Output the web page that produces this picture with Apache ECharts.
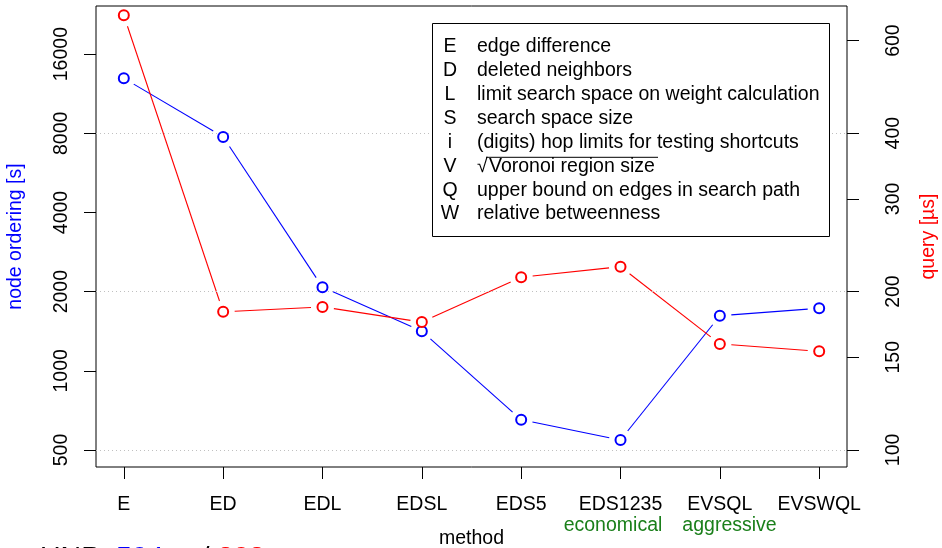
<!DOCTYPE html>
<html>
<head>
<meta charset="utf-8">
<script src="https://cdn.jsdelivr.net/npm/echarts@6/dist/echarts.min.js"></script>
<style>
html,body{margin:0;padding:0;background:#fff;}
#c{width:942px;height:548px;}
</style>
</head>
<body>
<div id="c"></div>
<script>
const categories = ['E', 'ED', 'EDL', 'EDSL', 'EDS5', 'EDS1235', 'EVSQL', 'EVSWQL'];
const nodeOrdering = [12950, 7750, 2080, 1414, 652, 546, 1620, 1730];
const queryTime = [670, 183, 187, 175, 213, 223, 159, 154];
const leftTicks = [500, 1000, 2000, 4000, 8000, 16000];
const rightTicks = [100, 150, 200, 300, 400, 600];
const gridValues = [500, 2000, 8000];
const legendKeys = ['E', 'D', 'L', 'S', 'i', 'V', 'Q', 'W'];
const legendTexts = ['edge difference', 'deleted neighbors', 'limit search space on weight calculation',
  'search space size', '(digits) hop limits for testing shortcuts', 'Voronoi region size',
  'upper bound on edges in search path', 'relative betweenness'];
const noteTexts = ['economical', 'aggressive'];
const titleParts = ['UNP', '504', 's  /', '208', 'µs'];

const FONT = "'Liberation Sans', Arial, sans-serif";
const FS = 19.5;
const GAP = 11.5;
const xPos = categories.map((c, i) => i + 1);
const bluePts = nodeOrdering.map((v, i) => [xPos[i], v]);
const redPts = queryTime.map((v, i) => [xPos[i], v]);
const segs = pts => pts.slice(0, -1).map((p, i) => [p[0], p[1], pts[i + 1][0], pts[i + 1][1]]);
const n = categories.length;
const plain = v => String(Math.round(v));

function segRenderer(color) {
  return function (params, api) {
    const a = api.coord([api.value(0), api.value(1)]);
    const b = api.coord([api.value(2), api.value(3)]);
    const dx = b[0] - a[0], dy = b[1] - a[1];
    const len = Math.sqrt(dx * dx + dy * dy);
    if (len <= 2 * GAP) return null;
    const ux = dx / len, uy = dy / len;
    return {
      type: 'line',
      shape: {x1: a[0] + ux * GAP, y1: a[1] + uy * GAP, x2: b[0] - ux * GAP, y2: b[1] - uy * GAP},
      style: {stroke: color, lineWidth: 1.1, fill: null}
    };
  };
}

const chart = echarts.init(document.getElementById('c'), null, {renderer: 'canvas'});

const graphics = [];
graphics.push({type: 'rect', shape: {x: 432.5, y: 23.5, width: 397, height: 213},
  style: {fill: '#fff', stroke: '#000', lineWidth: 1}, z: 10});
legendKeys.forEach((k, i) => {
  const ym = 54 + i * 23.86 - 7;
  graphics.push({type: 'text', x: 450, y: ym, z: 11,
    style: {text: k, font: FS + 'px ' + FONT, fill: '#000', align: 'center', verticalAlign: 'middle'}});
  if (k === 'V') {
    graphics.push({type: 'text', x: 477, y: ym, z: 11,
      style: {text: '√', font: FS + 'px ' + FONT, fill: '#000', align: 'left', verticalAlign: 'middle'}});
    graphics.push({type: 'text', x: 489, y: ym, z: 11,
      style: {text: legendTexts[i], font: FS + 'px ' + FONT, fill: '#000', align: 'left', verticalAlign: 'middle'}});
    graphics.push({type: 'line', z: 11, shape: {x1: 486, y1: ym - 9, x2: 658, y2: ym - 9},
      style: {stroke: '#000', lineWidth: 1}});
  } else {
    graphics.push({type: 'text', x: 477, y: ym, z: 11,
      style: {text: legendTexts[i], font: FS + 'px ' + FONT, fill: '#000', align: 'left', verticalAlign: 'middle'}});
  }
});
const noteX = [613, 729.5];
noteTexts.forEach((t, i) => {
  graphics.push({type: 'text', x: noteX[i], y: 526, z: 11,
    style: {text: t, font: FS + 'px ' + FONT, fill: '#1a7f1a', align: 'center', verticalAlign: 'middle'}});
});
graphics.push({type: 'text', x: 471.5, y: 539, z: 11,
  style: {text: 'method', font: FS + 'px ' + FONT, fill: '#000', align: 'center', verticalAlign: 'middle'}});
graphics.push({type: 'text', x: 40, y: 558, z: 11,
  style: {
    text: '{k|' + titleParts[0] + '}  {b|' + titleParts[1] + '} {k|' + titleParts[2] + '} {r|' + titleParts[3] + '} {k|' + titleParts[4] + '}',
    font: '28.5px ' + FONT, align: 'left', verticalAlign: 'middle',
    rich: {
      k: {fill: '#000', font: '28.5px ' + FONT},
      b: {fill: '#0000ff', font: '28.5px ' + FONT},
      r: {fill: '#ff0000', font: '28.5px ' + FONT}
    }
  }});

const option = {
  animation: false,
  backgroundColor: '#fff',
  grid: {left: 96, right: 95, top: 6, bottom: 81, show: true, borderColor: '#000', borderWidth: 1,
    backgroundColor: 'transparent', containLabel: false, outerBoundsMode: 'none'},
  xAxis: {
    type: 'value', min: 1 - 0.04 * (n - 1), max: n + 0.04 * (n - 1),
    axisLine: {show: false},
    splitLine: {show: false},
    axisTick: {show: true, customValues: xPos, length: 12, lineStyle: {color: '#000', width: 1}},
    axisLabel: {customValues: xPos, margin: 28, color: '#000', fontSize: FS, fontFamily: FONT,
      formatter: v => categories[Math.round(v) - 1] || ''}
  },
  yAxis: [
    {
      type: 'log', logBase: 2, min: 431, max: 24380, position: 'left',
      name: 'node ordering [s]', nameLocation: 'middle', nameGap: 70, nameRotate: 90,
      nameTextStyle: {color: '#0000ff', fontSize: FS, fontFamily: FONT},
      axisLine: {show: false}, splitLine: {show: false},
      axisTick: {show: true, customValues: leftTicks, length: 12, lineStyle: {color: '#000', width: 1}},
      axisLabel: {customValues: leftTicks, rotate: 90, margin: 24, color: '#000', fontSize: FS, fontFamily: FONT,
        formatter: plain}
    },
    {
      type: 'log', logBase: 2, min: 92.8, max: 698, position: 'right',
      name: 'query [µs]', nameLocation: 'middle', nameGap: 72, nameRotate: 90,
      nameTextStyle: {color: '#ff0000', fontSize: FS, fontFamily: FONT},
      axisLine: {show: false}, splitLine: {show: false},
      axisTick: {show: true, customValues: rightTicks, length: 12, lineStyle: {color: '#000', width: 1}},
      axisLabel: {customValues: rightTicks, rotate: 90, margin: 37, color: '#000', fontSize: FS, fontFamily: FONT,
        formatter: plain}
    }
  ],
  series: [
    {type: 'custom', yAxisIndex: 0, data: segs(bluePts), encode: {x: [0, 2], y: [1, 3]}, z: 2, silent: true,
      renderItem: segRenderer('#0000ff')},
    {type: 'custom', yAxisIndex: 1, data: segs(redPts), encode: {x: [0, 2], y: [1, 3]}, z: 2, silent: true,
      renderItem: segRenderer('#ff0000')},
    {type: 'line', yAxisIndex: 0, data: [], z: 3, silent: true,
      markLine: {silent: true, symbol: ['none', 'none'], label: {show: false},
        lineStyle: {color: '#c0c0c0', type: [1, 3], width: 1},
        data: gridValues.map(v => ({yAxis: v}))}},
    {type: 'scatter', yAxisIndex: 0, data: bluePts, symbol: 'emptyCircle', symbolSize: 10, z: 5, silent: true,
      itemStyle: {color: '#0000ff', borderWidth: 1.2, opacity: 1}},
    {type: 'scatter', yAxisIndex: 1, data: redPts, symbol: 'emptyCircle', symbolSize: 10, z: 5, silent: true,
      itemStyle: {color: '#ff0000', borderWidth: 1.2, opacity: 1}}
  ],
  graphic: graphics
};
chart.setOption(option);
</script>
</body>
</html>
